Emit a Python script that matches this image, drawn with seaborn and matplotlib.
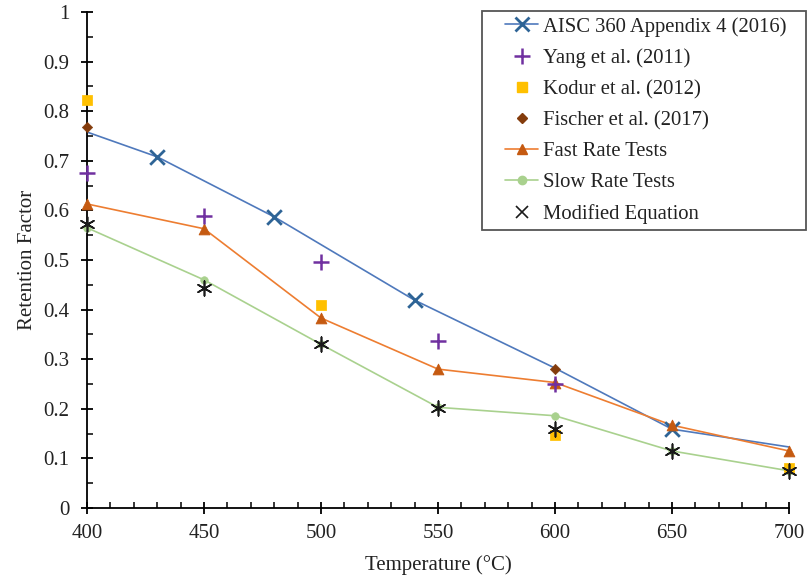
import matplotlib
matplotlib.use("Agg")
import matplotlib.pyplot as plt
from matplotlib.lines import Line2D
from matplotlib.patches import Rectangle
from matplotlib.ticker import MultipleLocator
import seaborn as sns

# ---- data ----
aisc_T = [400, 430, 480, 540, 600, 650, 700]
aisc_v = [0.758, 0.708, 0.587, 0.419, 0.282, 0.159, 0.123]
aisc_marker_T = [430, 480, 540, 650]
aisc_marker_v = [0.708, 0.587, 0.419, 0.159]

yang_T = [400, 450, 500, 550, 600]
yang_v = [0.675, 0.588, 0.495, 0.337, 0.250]

kodur_T = [400, 500, 600, 700]
kodur_v = [0.822, 0.410, 0.148, 0.080]

fischer_T = [400, 600]
fischer_v = [0.768, 0.280]

temps = [400, 450, 500, 550, 600, 650, 700]
fast_v = [0.613, 0.563, 0.383, 0.280, 0.253, 0.167, 0.115]
slow_v = [0.565, 0.460, 0.330, 0.203, 0.186, 0.115, 0.075]
mod_v = [0.573, 0.443, 0.330, 0.202, 0.160, 0.115, 0.075]

labels = ["AISC 360 Appendix 4 (2016)", "Yang et al. (2011)", "Kodur et al. (2012)",
          "Fischer et al. (2017)", "Fast Rate Tests", "Slow Rate Tests", "Modified Equation"]
ytick_labels = ["0", "0.1", "0.2", "0.3", "0.4", "0.5", "0.6", "0.7", "0.8", "0.9", "1"]

sns.set_theme(style="white")
FONT = ['Liberation Serif', 'DejaVu Serif']
plt.rcParams['font.family'] = FONT

W, H = 807, 578
fig = plt.figure(figsize=(W / 100, H / 100), dpi=100)
ax = fig.add_axes([87 / W, 1 - 508 / H, (789 - 87) / W, (508 - 12) / H])

c_aisc_line = "#4F79BC"
c_aisc_mk = "#2E6496"
c_yang = "#7030A0"
c_kodur = "#FFC000"
c_fischer = "#843C0C"
c_fast_line = "#ED7D31"
c_fast_mk = "#C55A11"
c_slow = "#A9D18E"
c_mod = "#1A1A1A"
ast = (6, 2, 0)

sns.lineplot(x=aisc_T, y=aisc_v, ax=ax, color=c_aisc_line, lw=1.2, zorder=2)
sns.scatterplot(x=aisc_marker_T, y=aisc_marker_v, ax=ax, marker="x", s=110,
                color=c_aisc_mk, linewidth=2.0, zorder=3, clip_on=False)
sns.lineplot(x=temps, y=fast_v, ax=ax, color=c_fast_line, lw=1.2, zorder=2)
sns.scatterplot(x=temps, y=fast_v, ax=ax, marker="^", s=60, color=c_fast_mk,
                edgecolor=c_fast_mk, zorder=4, clip_on=False)
sns.lineplot(x=temps, y=slow_v, ax=ax, color=c_slow, lw=1.2, zorder=2)
sns.scatterplot(x=temps, y=slow_v, ax=ax, marker="o", s=30, color=c_slow,
                edgecolor=c_slow, zorder=4, clip_on=False)
sns.scatterplot(x=kodur_T, y=kodur_v, ax=ax, marker="s", s=42, color=c_kodur,
                edgecolor=c_kodur, zorder=4, clip_on=False)
sns.scatterplot(x=fischer_T, y=fischer_v, ax=ax, marker="D", s=28, color=c_fischer,
                edgecolor=c_fischer, zorder=5, clip_on=False)
sns.scatterplot(x=yang_T, y=yang_v, ax=ax, marker="+", s=120, color=c_yang,
                linewidth=1.8, zorder=5, clip_on=False)
sns.scatterplot(x=temps, y=mod_v, ax=ax, marker=ast, s=110, color=c_mod,
                linewidth=1.2, zorder=6, clip_on=False)

ax.set_xlim(400, 700)
ax.set_ylim(0, 1)
ax.xaxis.set_major_locator(MultipleLocator(50))
ax.xaxis.set_minor_locator(MultipleLocator(10))
ax.set_yticks([i / 10 for i in range(11)])
ax.set_yticklabels(ytick_labels)
ax.yaxis.set_minor_locator(MultipleLocator(0.05))
for sp in ["top", "right"]:
    ax.spines[sp].set_visible(False)
for sp in ["left", "bottom"]:
    ax.spines[sp].set_color("black")
    ax.spines[sp].set_linewidth(1.3)
ax.tick_params(which="major", direction="inout", length=9, width=1.3, colors="black",
               labelsize=15, left=True, bottom=True)
ax.tick_params(axis="y", which="major", pad=8)
ax.tick_params(axis="x", which="major", pad=7)
ax.tick_params(which="minor", direction="in", length=4.5, width=1.1, colors="black",
               left=True, bottom=True)
for t in ax.get_xticklabels() + ax.get_yticklabels():
    t.set_fontfamily(FONT)
    t.set_color("#222222")
ax.set_xlabel("Temperature (°C)", fontsize=15, labelpad=9, color="#222222")
ax.set_ylabel("Retention Factor", fontsize=15, labelpad=5, color="#222222")

handles = [
    Line2D([], [], color=c_aisc_line, lw=1.2, marker="x", markersize=10,
           markeredgecolor=c_aisc_mk, markeredgewidth=2),
    Line2D([], [], ls="none", marker="+", markersize=11, color=c_yang, markeredgewidth=1.8),
    Line2D([], [], ls="none", marker="s", markersize=6.5, color=c_kodur),
    Line2D([], [], ls="none", marker="D", markersize=5.3, color=c_fischer),
    Line2D([], [], color=c_fast_line, lw=1.2, marker="^", markersize=7.5,
           markerfacecolor=c_fast_mk, markeredgecolor=c_fast_mk),
    Line2D([], [], color=c_slow, lw=1.2, marker="o", markersize=6),
    Line2D([], [], ls="none", marker="x", markersize=8, color=c_mod, markeredgewidth=1.2),
]
leg = ax.legend(handles, labels, loc="upper left", bbox_to_anchor=(505 / W, 1 - 17 / H),
                bbox_transform=fig.transFigure, fontsize=14.9, frameon=False,
                handlelength=1.6, handletextpad=0.25, labelspacing=0.56, borderpad=0,
                borderaxespad=0)
for t in leg.get_texts():
    t.set_color("#222222")
fig.patches.append(Rectangle((482 / W, 1 - 230 / H), (806 - 482) / W, (230 - 11) / H,
                             transform=fig.transFigure, fill=False, edgecolor="#555555",
                             linewidth=1.3, zorder=10))

fig.savefig("out.png", dpi=100)
